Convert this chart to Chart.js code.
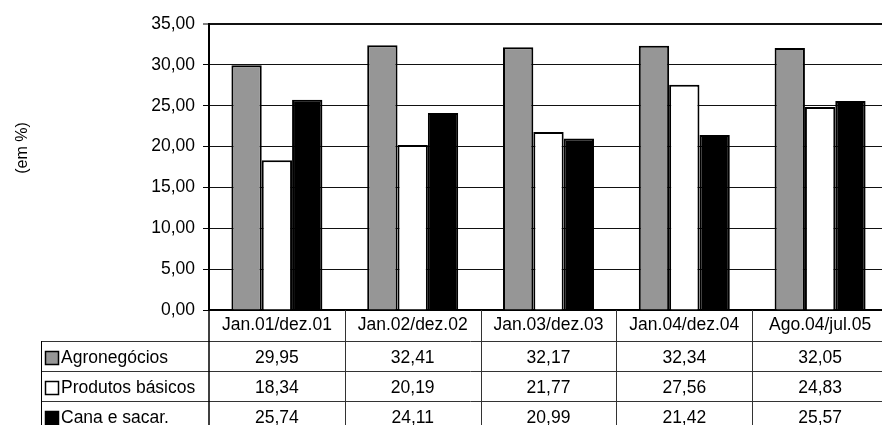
<!DOCTYPE html>
<html>
<head>
<meta charset="utf-8">
<script src="https://cdn.jsdelivr.net/npm/chart.js@4/dist/chart.umd.min.js"></script>
<style>
  html, body { margin: 0; padding: 0; background: #fff; overflow: hidden; }
  #wrap { width: 900px; height: 431px; }
</style>
</head>
<body>
<div id="wrap"><canvas id="chart" width="900" height="431"></canvas></div>
<script>
// Periods and participation (%) by group
const categories = ['Jan.01/dez.01', 'Jan.02/dez.02', 'Jan.03/dez.03', 'Jan.04/dez.04', 'Ago.04/jul.05'];
const seriesNames = ['Agronegócios', 'Produtos básicos', 'Cana e sacar.'];
const agronegocios = [29.95, 32.41, 32.17, 32.34, 32.05];
const produtosBasicos = [18.34, 20.19, 21.77, 27.56, 24.83];
const canaSacar = [25.74, 24.11, 20.99, 21.42, 25.57];
const yMin = 0, yMax = 35, yStep = 5;
const yTitle = '(em %)';

const FONT = '"Liberation Sans", Arial, sans-serif';
const SIZE = 17.5;
const fills = ['#969696', '#ffffff', '#000000'];
const fmt = v => v.toFixed(2).replace('.', ',');

// Data table under the plot, plus the rotated axis caption
const tablePlugin = {
  id: 'dataTable',
  afterDraw(chart) {
    const ctx = chart.ctx;
    const area = chart.chartArea;
    const n = chart.data.labels.length;
    const colW = area.width / n;
    const headerH = 31, rowH = 30;
    const tableLeft = 41;
    const H = chart.height, W = chart.width;
    ctx.save();

    // horizontal rules
    ctx.strokeStyle = '#333';
    ctx.lineWidth = 1;
    for (let k = 0; k <= chart.data.datasets.length; k++) {
      const y = Math.round(area.bottom + headerH + k * rowH) + 0.5;
      ctx.beginPath();
      ctx.moveTo(tableLeft, y);
      ctx.lineTo(W, y);
      ctx.stroke();
    }
    // column separators
    for (let i = 1; i < n; i++) {
      const x = Math.round(area.left + i * colW) + 0.5;
      ctx.beginPath();
      ctx.moveTo(x, area.bottom);
      ctx.lineTo(x, H);
      ctx.stroke();
    }
    // left border of the table and axis continuation
    ctx.strokeStyle = '#000';
    ctx.beginPath();
    ctx.moveTo(tableLeft + 0.5, area.bottom + headerH);
    ctx.lineTo(tableLeft + 0.5, H);
    ctx.stroke();
    ctx.lineWidth = 1.5;
    ctx.beginPath();
    ctx.moveTo(area.left, area.bottom);
    ctx.lineTo(area.left, H);
    ctx.stroke();

    // rows: legend key, series name, values
    ctx.font = SIZE + 'px ' + FONT;
    ctx.textBaseline = 'middle';
    chart.data.datasets.forEach((ds, r) => {
      const cy = area.bottom + headerH + r * rowH + rowH / 2 + 2;
      ctx.fillStyle = ds.backgroundColor;
      ctx.fillRect(45.5, cy - 6.5, 13, 13);
      ctx.strokeStyle = '#000';
      ctx.lineWidth = 1.5;
      ctx.strokeRect(45.5, cy - 6.5, 13, 13);
      ctx.fillStyle = '#000';
      ctx.textAlign = 'left';
      ctx.fillText(ds.label, 61, cy);
      ctx.textAlign = 'center';
      ds.data.forEach((v, i) => {
        ctx.fillText(fmt(v), area.left + (i + 0.5) * colW, cy);
      });
    });

    // rotated caption of the value axis
    ctx.translate(23, 148);
    ctx.rotate(-Math.PI / 2);
    ctx.textAlign = 'center';
    ctx.fillStyle = '#000';
    ctx.font = '16px ' + FONT;
    ctx.fillText(yTitle, 0, 0);
    ctx.restore();
  }
};

const values = [agronegocios, produtosBasicos, canaSacar];

new Chart(document.getElementById('chart'), {
  type: 'bar',
  data: {
    labels: categories,
    datasets: seriesNames.map((name, i) => ({
      label: name,
      data: values[i],
      backgroundColor: fills[i],
      borderColor: '#000',
      borderWidth: 2,
      categoryPercentage: 0.67,
      barPercentage: 1.0
    }))
  },
  options: {
    responsive: false,
    animation: false,
    layout: { padding: { left: 0, top: 24, right: 12, bottom: 0 } },
    plugins: { legend: { display: false }, tooltip: { enabled: false } },
    scales: {
      x: {
        grid: { display: false, drawTicks: false },
        border: { display: true, color: '#000', width: 2 },
        ticks: { color: '#000', font: { family: FONT, size: SIZE }, padding: 5, maxRotation: 0, autoSkip: false },
        afterFit(scale) { scale.height = 121; }
      },
      y: {
        min: yMin, max: yMax,
        ticks: { stepSize: yStep, color: '#000', font: { family: FONT, size: SIZE }, padding: 8, callback: v => fmt(v) },
        grid: {
          color: '#111',
          lineWidth: c => (c.tick && c.tick.value === yMax ? 2 : 1),
          tickLength: 6,
          tickColor: '#000',
          tickWidth: 1
        },
        border: { display: true, color: '#000', width: 2 },
        afterFit(scale) { scale.width = 209; }
      }
    }
  },
  plugins: [tablePlugin]
});
</script>
</body>
</html>
